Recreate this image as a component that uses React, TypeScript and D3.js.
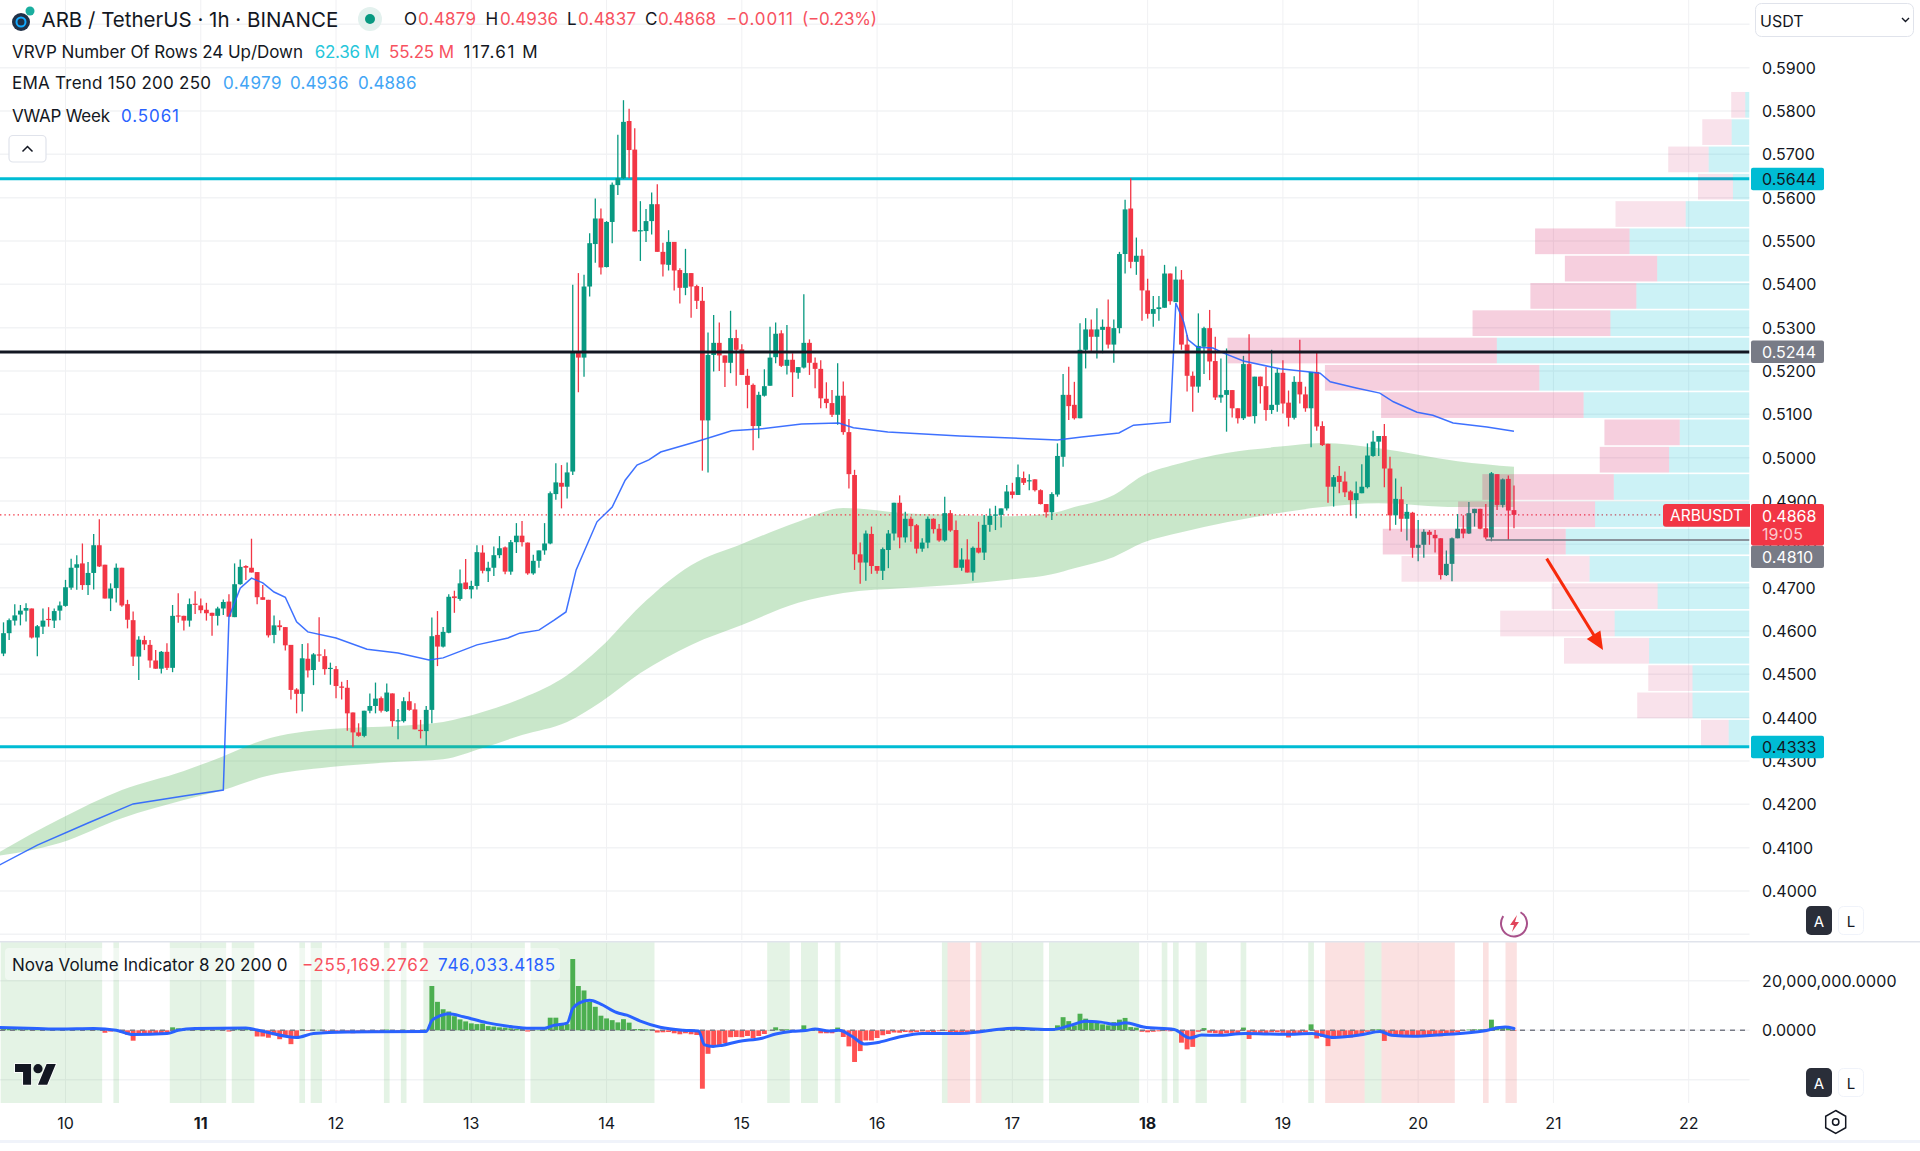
import React from "react";
import * as d3 from "d3";

type Candle = [number, number, number, number];

// OHLC candles, one hour each, grouped by calendar day
const candlesDay09: Candle[] = [
[.4548,.4620,.4542,.4595],[.4595,.4629,.4579,.4625],[.4624,.4662,.4613,.4636],[.4638,.4660,.4613,.4647],[.4647,.4664,.4622,.4653],[.4652,.4652,.4583,.4585],[.4585,.4614,.4542,.4611],[.4610,.4652,.4593,.4624],[.4628,.4655,.4610,.4627],[.4624,.4652,.4607,.4646],[.4647,.4668,.4625,.4659]];
const candlesDay10: Candle[] = [
[.4658,.4718,.4656,.4701],[.4700,.4767,.4695,.4746],[.4746,.4775,.4695,.4754],[.4756,.4802,.4695,.4706],[.4706,.4759,.4683,.4734],[.4734,.4824,.4696,.4798],[.4798,.4858,.4748,.4749],[.4753,.4753,.4675,.4675],[.4675,.4710,.4646,.4698],[.4699,.4756,.4666,.4746],[.4746,.4746,.4656,.4659],[.4662,.4672,.4606,.4626],[.4625,.4645,.4519,.4541],[.4541,.4588,.4487,.4580],[.4579,.4589,.4556,.4569],[.4568,.4579,.4515,.4532],[.4532,.4556,.4513,.4513],[.4513,.4554,.4502,.4552],[.4552,.4572,.4510,.4515],[.4515,.4660,.4505,.4635],[.4636,.4687,.4619,.4635],[.4635,.4635,.4601,.4624],[.4624,.4675,.4610,.4662],[.4663,.4692,.4639,.4662]];
const candlesDay11: Candle[] = [
[.4659,.4675,.4641,.4648],[.4649,.4665,.4624,.4641],[.4642,.4642,.4589,.4635],[.4635,.4656,.4613,.4652],[.4652,.4673,.4637,.4667],[.4668,.4685,.4633,.4633],[.4632,.4756,.4632,.4708],[.4708,.4765,.4707,.4748],[.4750,.4752,.4718,.4746],[.4746,.4813,.4735,.4735],[.4736,.4736,.4662,.4678],[.4678,.4706,.4672,.4672],[.4672,.4672,.4585,.4590],[.4591,.4636,.4572,.4613],[.4613,.4625,.4601,.4609],[.4609,.4609,.4555,.4567],[.4568,.4568,.4442,.4464],[.4465,.4468,.4410,.4455],[.4455,.4570,.4414,.4537],[.4536,.4572,.4493,.4509],[.4510,.4549,.4475,.4546],[.4546,.4632,.4529,.4545],[.4542,.4558,.4499,.4512],[.4514,.4527,.4476,.4515]];
const candlesDay12: Candle[] = [
[.4512,.4519,.4445,.4473],[.4472,.4483,.4442,.4469],[.4469,.4487,.4370,.4410],[.4412,.4412,.4333,.4366],[.4366,.4387,.4356,.4358],[.4358,.4416,.4355,.4416],[.4416,.4456,.4410,.4427],[.4427,.4481,.4410,.4444],[.4445,.4449,.4412,.4416],[.4415,.4479,.4413,.4458],[.4456,.4456,.4379,.4392],[.4392,.4420,.4350,.4394],[.4392,.4447,.4389,.4438],[.4438,.4460,.4416,.4418],[.4419,.4433,.4373,.4373],[.4372,.4395,.4352,.4369],[.4369,.4427,.4335,.4418],[.4418,.4631,.4387,.4588],[.4591,.4646,.4519,.4564],[.4564,.4609,.4562,.4598],[.4596,.4685,.4595,.4679],[.4680,.4693,.4642,.4676],[.4674,.4742,.4670,.4710],[.4712,.4766,.4696,.4697]];
const candlesDay13: Candle[] = [
[.4696,.4716,.4675,.4704],[.4704,.4798,.4696,.4782],[.4781,.4798,.4733,.4739],[.4738,.4760,.4713,.4746],[.4746,.4795,.4727,.4775],[.4775,.4819,.4768,.4791],[.4793,.4795,.4731,.4737],[.4737,.4810,.4730,.4805],[.4805,.4849,.4780,.4820],[.4820,.4854,.4795,.4805],[.4804,.4804,.4730,.4733],[.4733,.4776,.4730,.4762],[.4762,.4786,.4746,.4786],[.4786,.4849,.4776,.4802],[.4802,.4922,.4800,.4918],[.4916,.4987,.4903,.4943],[.4942,.4983,.4883,.4933],[.4933,.4989,.4906,.4966],[.4968,.5399,.4960,.5246],[.5246,.5426,.5151,.5231],[.5231,.5422,.5187,.5395],[.5395,.5518,.5372,.5495],[.5493,.5598,.5450,.5552],[.5552,.5575,.5423,.5439]];
const candlesDay14: Candle[] = [
[.5440,.5546,.5439,.5544],[.5544,.5635,.5495,.5630],[.5629,.5745,.5606,.5645],[.5645,.5825,.5643,.5775],[.5777,.5805,.5645,.5710],[.5711,.5760,.5522,.5522],[.5523,.5592,.5454,.5525],[.5523,.5574,.5498,.5546],[.5546,.5612,.5515,.5585],[.5585,.5631,.5475,.5475],[.5475,.5496,.5418,.5446],[.5445,.5525,.5432,.5498],[.5498,.5498,.5386,.5432],[.5433,.5437,.5356,.5392],[.5392,.5482,.5375,.5426],[.5426,.5426,.5323,.5395],[.5396,.5399,.5343,.5362],[.5362,.5394,.4970,.5086],[.5086,.5289,.4966,.5237],[.5237,.5329,.5199,.5265],[.5265,.5312,.5200,.5236],[.5236,.5236,.5163,.5219],[.5219,.5339,.5195,.5276],[.5276,.5295,.5166,.5249]];
const candlesDay15: Candle[] = [
[.5250,.5262,.5191,.5191],[.5189,.5205,.5114,.5168],[.5168,.5171,.5017,.5073],[.5073,.5152,.5045,.5145],[.5143,.5204,.5141,.5165],[.5166,.5302,.5166,.5231],[.5232,.5312,.5218,.5286],[.5287,.5294,.5209,.5212],[.5212,.5306,.5192,.5226],[.5226,.5241,.5140,.5197],[.5196,.5209,.5182,.5209],[.5208,.5377,.5206,.5265],[.5265,.5273,.5191,.5219],[.5219,.5231,.5160,.5205],[.5205,.5225,.5114,.5137],[.5136,.5174,.5114,.5126],[.5126,.5156,.5094,.5099],[.5099,.5218,.5076,.5143],[.5143,.5176,.5053,.5059],[.5059,.5089,.4929,.4962],[.4960,.4972,.4741,.4777],[.4777,.4804,.4709,.4758],[.4758,.4832,.4716,.4825],[.4824,.4841,.4732,.4750]];
const candlesDay16: Candle[] = [
[.4750,.4750,.4732,.4739],[.4739,.4793,.4718,.4789],[.4787,.4833,.4745,.4825],[.4825,.4896,.4809,.4896],[.4896,.4913,.4791,.4816],[.4816,.4875,.4804,.4859],[.4859,.4864,.4806,.4842],[.4844,.4847,.4779,.4790],[.4790,.4814,.4783,.4804],[.4804,.4864,.4791,.4859],[.4859,.4860,.4825,.4835],[.4836,.4847,.4806,.4809],[.4809,.4910,.4806,.4872],[.4872,.4879,.4829,.4832],[.4833,.4855,.4746,.4746],[.4746,.4791,.4739,.4765],[.4765,.4812,.4735,.4735],[.4735,.4795,.4716,.4792],[.4792,.4852,.4779,.4781],[.4781,.4868,.4764,.4845],[.4845,.4883,.4829,.4866],[.4866,.4889,.4833,.4869],[.4868,.4883,.4839,.4883],[.4883,.4937,.4878,.4922]];
const candlesDay17: Candle[] = [
[.4922,.4942,.4906,.4914],[.4914,.4984,.4914,.4955],[.4953,.4968,.4937,.4942],[.4946,.4962,.4925,.4948],[.4950,.4950,.4922,.4925],[.4925,.4927,.4892,.4893],[.4893,.4893,.4862,.4874],[.4874,.4920,.4856,.4916],[.4915,.5033,.4910,.5004],[.5002,.5193,.4979,.5145],[.5145,.5210,.5087,.5119],[.5122,.5175,.5088,.5091],[.5091,.5310,.5091,.5249],[.5249,.5322,.5206,.5296],[.5296,.5319,.5245,.5279],[.5279,.5345,.5229,.5296],[.5295,.5319,.5241,.5302],[.5302,.5365,.5252,.5261],[.5261,.5319,.5219,.5299],[.5299,.5475,.5287,.5470],[.5470,.5595,.5425,.5573],[.5575,.5645,.5437,.5452],[.5452,.5508,.5422,.5466],[.5466,.5481,.5316,.5386]];
const candlesDay18: Candle[] = [
[.5386,.5413,.5321,.5332],[.5332,.5373,.5302,.5343],[.5343,.5373,.5316,.5347],[.5346,.5445,.5346,.5425],[.5425,.5425,.5353,.5361],[.5359,.5441,.5359,.5411],[.5411,.5433,.5249,.5261],[.5261,.5283,.5153,.5189],[.5189,.5199,.5106,.5164],[.5164,.5333,.5150,.5258],[.5256,.5302,.5193,.5299],[.5299,.5341,.5179,.5222],[.5223,.5279,.5133,.5139],[.5139,.5229,.5127,.5145],[.5145,.5252,.5060,.5156],[.5156,.5156,.5093,.5114],[.5114,.5114,.5079,.5091],[.5091,.5235,.5087,.5216],[.5216,.5285,.5095,.5095],[.5096,.5187,.5079,.5187],[.5187,.5187,.5125,.5165],[.5165,.5210,.5085,.5110],[.5110,.5249,.5101,.5122],[.5122,.5206,.5106,.5196]];
const candlesDay19: Candle[] = [
[.5196,.5225,.5102,.5125],[.5127,.5155,.5072,.5092],[.5092,.5188,.5088,.5175],[.5175,.5272,.5125,.5146],[.5146,.5164,.5106,.5114],[.5114,.5198,.5024,.5198],[.5198,.5245,.5062,.5072],[.5073,.5084,.5027,.5029],[.5032,.5032,.4896,.4933],[.4933,.4960,.4887,.4955],[.4958,.4981,.4918,.4944],[.4945,.4968,.4909,.4920],[.4922,.4925,.4866,.4902],[.4902,.4945,.4860,.4918],[.4918,.4985,.4918,.4933],[.4932,.5033,.4929,.5005],[.5004,.5062,.5002,.5037],[.5037,.5050,.5004,.5050],[.5050,.5078,.4932,.4975],[.4975,.5002,.4832,.4867],[.4867,.4952,.4845,.4905],[.4904,.4933,.4829,.4859],[.4859,.4893,.4809,.4875],[.4873,.4875,.4769,.4792]];
const candlesDay20: Candle[] = [
[.4792,.4856,.4761,.4799],[.4799,.4835,.4769,.4829],[.4829,.4833,.4799,.4822],[.4822,.4833,.4781,.4814],[.4814,.4814,.4719,.4729],[.4729,.4786,.4727,.4755],[.4755,.4816,.4715,.4814],[.4814,.4870,.4814,.4836],[.4836,.4867,.4814,.4825],[.4825,.4898,.4824,.4872],[.4872,.4882,.4841,.4882],[.4882,.4882,.4835,.4836],[.4837,.4893,.4812,.4816],[.4816,.4967,.4807,.4964],[.4962,.4962,.4879,.4891],[.4891,.4952,.4885,.4950],[.4951,.4959,.4810,.4878],[.4879,.4936,.4837,.4868]];

// EMA ribbon (EMA 150 top edge, EMA 250 bottom edge) read at candle indexes
const ribbonIndex = [-1,10,21,32,39,46,58,70,78,85,92,100,106,113,122,131,141,149,160,170,178,186,190,197,202,209,217,226,234,244,258,268];
const ribbonUpper = [.4088,.4166,.4233,.4277,.4311,.4348,.4374,.4381,.4390,.4413,.4445,.4498,.4563,.4658,.4752,.4801,.4852,.4884,.4872,.4868,.4865,.4872,.4886,.4914,.4958,.4988,.5011,.5025,.5034,.5022,.4992,.4979];
const ribbonLower = [.4081,.4111,.4168,.4210,.4233,.4263,.4286,.4298,.4304,.4330,.4360,.4390,.4436,.4503,.4568,.4614,.4665,.4688,.4699,.4708,.4718,.4731,.4745,.4771,.4803,.4828,.4851,.4872,.4886,.4895,.4886,.4886];

// Weekly VWAP
const vwapIndex = [-1,6,15,23,32,39,40,42,44,46,48,50,52,54,59,64.5,70,75.5,78,84,89.5,91.6,95,97.7,99.8,101.6,105.3,108,110.3,112.4,114.5,116.6,123.2,129.2,134,141.6,148.2,150.8,156.9,169.7,187,191.3,197.9,200.5,207,208,209.4,210.2,211.8,214.6,216.4,220,226.5,231.8,233.6,235.4,240,244.2,246.6,250.8,253.6,257.2,263.2,268];
const vwapValues = [.4058,.4106,.4157,.4201,.4219,.4233,.4632,.4699,.4722,.4711,.4690,.4678,.4621,.4598,.4584,.4558,.4549,.4533,.4538,.4568,.4584,.4595,.4602,.4625,.4644,.4741,.4852,.4886,.4948,.4983,.4995,.5013,.5038,.5062,.5066,.5078,.5080,.5069,.5059,.5050,.5041,.5048,.5057,.5075,.5082,.5357,.5313,.5272,.5255,.5253,.5242,.5223,.5205,.5198,.5195,.5175,.5161,.5149,.5129,.5105,.5098,.5080,.5071,.5061];

// Volume profile, top row first, in millions
const vrvpUp = [.10,.42,.96,.39,1.50,2.82,2.17,2.66,3.27,5.94,4.94,3.90,1.64,1.89,3.19,3.63,4.32,3.76,2.16,3.17,2.36,1.34,1.34,.49];
const vrvpDown = [.33,.69,.95,.82,1.65,2.22,2.17,2.49,3.24,6.33,5.04,4.76,1.77,1.63,3.09,3.22,4.30,4.42,2.49,2.69,2.00,1.04,1.30,.65];
const vrvpValueArea = [0,0,0,0,0,1,1,1,1,1,1,1,1,1,1,1,1,0,0,0,0,0,0,0];
const vrvpTopPrice = .5844;
const vrvpRowStep = .0063;

// Nova Volume Indicator, in millions
const novaHistogram = [
.8,.8,.7,.6,.5,.5,.4,.4,.3,.3,.4,.4,.4,.5,.6,.5,.6,.4,
-1,-.5,.2,-1,-1.8,-4.2,-1.5,-1.8,-1.5,-1.6,-1.2,-.8,
1.2,.8,.5,.4,.6,.5,.3,.3,.4,.4,-.5,.6,1.1,.9,.8,
-2.5,-2.5,-3,-2,-3.6,-2.4,-5.6,-3.2,
.3,-.3,.2,.2,-.5,-.4,-.6,-.8,-1.1,-1.2,-1.1,-.7,-.5,-.5,-.4,.3,-.4,-.4,.2,-.4,-.3,-.2,.3,
17.9,11.5,8.5,7.6,5.7,4.4,3.6,2.8,2.5,2.7,1.7,1.5,1.2,1.1,.8,.5,.7,
-.5,.2,.2,.4,5.1,5.1,2.8,2.5,
28.8,17.9,16.1,11.5,9.5,5.9,4.8,4.1,3.2,4.5,3.1,.5,.5,.4,.4,
-.9,-.8,-.7,-1.2,-1.6,-1.2,-1.6,-1.9,-23.6,-9.5,-6.5,-6.3,-5.2,-2.8,-2.7,-2.8,-2.3,-3.2,-2.3,-1.5,
.1,1.2,.4,.4,-.1,.1,2,.5,.5,
-1.2,-1.2,-1.2,1.1,
-2.7,-6.5,-12.8,-8.4,-4.1,-4.1,-3.1,-2,-1.5,-.9,-1,-.7,-.9,-.7,
-.5,-.6,-.8,-.4,-.3,-1.8,-.8,
-1,-1.3,-.8,-.6,-.4,-.4,.3,.4,.6,.6,.7,.6,.7,.6,.5,.5,.4,
2,5.3,3.7,2,6.7,4.7,3.7,3.3,2.4,2,3.3,4.3,5,1.3,1.1,
-.6,-.8,-.6,-.4,-.3,-.4,.4,
-5,-7.7,-6.7,-.6,.9,-1,-1.2,-1.6,-1.2,-1.5,-1.3,
1.1,-3.5,-1,-1.2,-1.2,-.8,-.8,-1,-2.9,-1.5,-1.2,-.8,
2.4,
-3.3,-2.7,-6.4,-3.3,-2.9,-2.7,-2.9,-2.4,-1.6,-.6,
.4,.4,
-4.3,-2,-2.4,-2.4,-2.7,-2.4,-2,-2.1,-2,-1.9,-2.4,-1.6,-1.3,-.8,-.3,
.3,.4,.4,.5,4.3,1.6,1.3,1.1,
-.26];
const novaLineIndex = [-1,6,10,16,20,23,29,31,34,43,46,52,55,61,75,76,77.5,79,81.6,85.7,90,93.4,96,97.6,100,101,102.3,104,105.8,108.8,110.6,113,116.5,120.6,123.3,124.4,125.9,127.4,130.4,134.6,137,140,142.3,144,146.5,148.2,150.6,152.7,155.4,158.9,163,169.7,173,176.2,179.5,186,189.3,192,194.7,197.4,199,202.3,207.7,210.5,212.6,215.4,220.2,227.3,232.2,236,241.4,244.2,246.3,250.1,255.6,262.6,265.4,266.4,268];
const novaLineValues = [1.2,.7,.5,.7,0,-1.7,-1.3,0,.7,.9,-.4,-2.9,-1.3,-.7,-.5,3.9,5.9,6.7,5.5,3.1,1.5,.8,.8,2,2.9,8.8,11.2,12.1,10.8,7.2,6.1,3.7,1.2,0,-.3,-5.9,-6.5,-6.1,-4.5,-3.2,-1.5,-.4,-.1,.5,-.3,0,-2.5,-5.5,-4.8,-2.7,-1.3,-1.3,-.7,.3,.8,.3,2,3.7,3.3,2.4,3.1,1.3,.3,-3.1,-1.9,-2,-1.3,-1.6,-1.3,-2.9,-1.6,-.5,-2,-2.4,-1.7,-.3,1.1,1.3,.75];
const novaGreenSpans: [number, number][] = [[0,17],[20,20],[30,39],[41,44],[53,53],[55,56],[68,68],[71,71],[75,92],[94,115],[136,139],[142,144],[148,148],[167,167],[174,184],[186,201],[206,206],[208,208],[212,213],[220,220],[232,232],[242,244]];
const novaRedSpans: [number, number][] = [[168,171],[173,173],[235,241],[245,257],[263,263],[267,268]];

// Axis labels and levels
const dayTicks = [10,11,12,13,14,15,16,17,18,19,20,21,22];
const boldDays = [11,18];
const priceTicks = [.59,.58,.57,.56,.55,.54,.53,.52,.51,.50,.49,.48,.47,.46,.45,.44,.43,.42,.41,.40];
const extraPriceGrid = [.60,.39];
const novaGrid = [20,0,-20];
const levelSupport = .4333;
const levelResistance = .5644;
const levelPivot = .5244;
const levelLastLow = .4810;
const lastPrice = .4868;
const arrowFrom = { index: 273.8, price: .4767 };
const arrowTo = { index: 283.8, price: .4556 };

const candles = [...candlesDay09,...candlesDay10,...candlesDay11,...candlesDay12,...candlesDay13,...candlesDay14,...candlesDay15,...candlesDay16,...candlesDay17,...candlesDay18,...candlesDay19,...candlesDay20];

const FONT = "Inter, 'Noto Sans', sans-serif";
const W = 1920, H = 1151;
const PANE_R = 1749.5;
const UP = "#089981", DOWN = "#F23645", INK = "#131722";
const GRID = "#F2F3F5";

const x = d3.scaleLinear().domain([11, 299]).range([65.5, 1688.7]);
const y = d3.scaleLinear().domain([.59, .40]).range([67.7, 891]);
const yNova = d3.scaleLinear().domain([20, 0, -20]).range([980.8, 1030.3, 1079.8]);
const xVol = d3.scaleLinear().domain([0, 12.27]).range([PANE_R, PANE_R - 522]);
const CANDLE_STEP = x(12) - x(11);
const dayIndex = (d: number) => 11 + (d - 10) * 24;
const fmt = d3.format(".4f");

function T(p: any) {
  const { children, ...rest } = p;
  const fit = p.textLength ? { lengthAdjust: "spacing" } : {};
  return <text dominantBaseline="central" fontFamily={FONT} fill={INK} {...fit} {...rest}>{children}</text>;
}

function Tag({ top, h, fill, label, color }: any) {
  return (
    <g>
      <rect x={1751} y={top} width={73} height={h} rx={2} fill={fill} />
      <T x={1762} y={top + 11.5} fontSize={16} fill={color}>{label}</T>
    </g>
  );
}

function AB({ top }: { top: number }) {
  return (
    <g>
      <rect x={1806} y={top} width={26} height={29} rx={5} fill="#2A2E39" />
      <T x={1819} y={top + 15} fontSize={15} textAnchor="middle" fill="#fff">A</T>
      <rect x={1838.5} y={top + .5} width={25} height={28} rx={5} fill="#fff" stroke="#F0F3FA" />
      <T x={1851} y={top + 15} fontSize={15} textAnchor="middle">L</T>
    </g>
  );
}

export default function App() {
  const ribbon = d3.area<number>()
    .x((_, i) => x(ribbonIndex[i]))
    .y0((_, i) => y(ribbonLower[i]))
    .y1((_, i) => y(ribbonUpper[i]))
    .curve(d3.curveMonotoneX)(ribbonUpper) as string;
  const vwap = d3.line<number>()
    .x((_, i) => x(vwapIndex[i]))
    .y((v) => y(v))(vwapValues) as string;
  const novaLine = d3.line<number>()
    .x((_, i) => x(novaLineIndex[i]))
    .y((v) => yNova(v))
    .curve(d3.curveMonotoneX)(novaLineValues) as string;
  const ax = x(arrowFrom.index), ay = y(arrowFrom.price), bx = x(arrowTo.index), by = y(arrowTo.price);
  const ang = Math.atan2(by - ay, bx - ax);
  const head = [[0, 0], [-18, 8], [-18, -8]].map(([u, v]) => [bx + u * Math.cos(ang) - v * Math.sin(ang), by + u * Math.sin(ang) + v * Math.cos(ang)].join(",")).join(" ");
  const yLast = y(lastPrice);
  const mid = (lo: number, hi: number) => [x(lo) - CANDLE_STEP / 2, x(hi) + CANDLE_STEP / 2];

  return (
    <svg width={W} height={H} viewBox={`0 0 ${W} ${H}`} style={{ position: "absolute", left: 0, top: 0, display: "block", background: "#fff" }}>
      <defs>
        <clipPath id="mainClip"><rect x={0} y={0} width={PANE_R} height={941} /></clipPath>
      </defs>

      {/* grids */}
      {[...priceTicks, ...extraPriceGrid].map((p) => (
        <line key={p} x1={0} x2={PANE_R} y1={y(p)} y2={y(p)} stroke={GRID} strokeWidth={1.5} />
      ))}
      {novaGrid.map((v) => (
        <line key={v} x1={0} x2={PANE_R} y1={yNova(v)} y2={yNova(v)} stroke={GRID} strokeWidth={1.5} />
      ))}
      {dayTicks.map((d) => (
        <g key={d}>
          <line x1={x(dayIndex(d))} x2={x(dayIndex(d))} y1={0} y2={940} stroke="#F0F1F3" />
          <line x1={x(dayIndex(d))} x2={x(dayIndex(d))} y1={943} y2={1103} stroke="#F0F1F3" />
        </g>
      ))}

      {/* main pane */}
      <g clipPath="url(#mainClip)">
        <line x1={0} x2={PANE_R} y1={y(levelResistance)} y2={y(levelResistance)} stroke="#00BCD4" strokeWidth={3} />
        <line x1={0} x2={PANE_R} y1={y(levelSupport)} y2={y(levelSupport)} stroke="#00BCD4" strokeWidth={3} />
        <path d={ribbon} fill="#4CAF50" fillOpacity={0.3} />
        <line x1={0} x2={1663} y1={yLast} y2={yLast} stroke={DOWN} strokeWidth={1.2} strokeDasharray="1.4 3" />
        {candles.map(([o, h, l, c], i) => {
          const col = c >= o ? UP : DOWN;
          const top = y(Math.max(o, c)), bot = y(Math.min(o, c));
          return (
            <g key={i}>
              <line x1={x(i)} x2={x(i)} y1={y(h)} y2={y(l)} stroke={col} strokeWidth={1.3} />
              <rect x={x(i) - 2.4} width={4.8} y={top} height={Math.max(bot - top, 1.2)} fill={col} />
            </g>
          );
        })}
        {vrvpUp.map((u, i) => {
          const d = vrvpDown[i];
          const top = y(vrvpTopPrice - i * vrvpRowStep);
          const h = y(vrvpTopPrice - (i + 1) * vrvpRowStep) - top - 1.6;
          return (
            <g key={i}>
              <rect x={xVol(u)} y={top} width={xVol(0) - xVol(u)} height={h} fill="#00BCD4" fillOpacity={0.2} />
              <rect x={xVol(u + d)} y={top} width={xVol(u) - xVol(u + d)} height={h} fill="#D41E63" fillOpacity={vrvpValueArea[i] ? 0.21 : 0.13} />
            </g>
          );
        })}
        <path d={vwap} fill="none" stroke="#2962FF" strokeWidth={1.5} strokeOpacity={0.9} />
        <line x1={0} x2={PANE_R} y1={y(levelPivot)} y2={y(levelPivot)} stroke={INK} strokeWidth={3} />
        <line x1={x(263)} x2={PANE_R} y1={y(levelLastLow)} y2={y(levelLastLow)} stroke="#787B86" strokeWidth={2} strokeOpacity={0.8} />
        <line x1={ax} x2={bx - 10 * Math.cos(ang)} y1={ay} y2={by - 10 * Math.sin(ang)} stroke="#F72A0C" strokeWidth={3} />
        <polygon points={head} fill="#F72A0C" />
      </g>

      {/* pane frame */}
      <line x1={0} x2={W} y1={941.7} y2={941.7} stroke="#E0E3EB" strokeWidth={1.6} />
      <rect x={0} y={1140} width={W} height={3} fill="#F0F3FA" />

      {/* lower pane */}
      {novaGreenSpans.map(([a, b]) => {
        const [l, r] = mid(a, b);
        return <rect key={`g${a}`} x={l} y={942.5} width={r - l} height={160.5} fill="#4CAF50" fillOpacity={0.15} />;
      })}
      {novaRedSpans.map(([a, b]) => {
        const [l, r] = mid(a, b);
        return <rect key={`r${a}`} x={l} y={942.5} width={r - l} height={160.5} fill="#E53935" fillOpacity={0.15} />;
      })}
      {novaHistogram.map((v, i) => {
        const a = yNova(Math.max(v, 0)), b = yNova(Math.min(v, 0));
        return <rect key={i} x={x(i) - 2.45} width={4.9} y={a} height={b - a} fill={v >= 0 ? "#4CAF50" : "#FF5252"} />;
      })}
      <line x1={0} x2={PANE_R} y1={yNova(0)} y2={yNova(0)} stroke="#787B86" strokeWidth={1.4} strokeDasharray="5 5" />
      <path d={novaLine} fill="none" stroke="#2962FF" strokeWidth={3} strokeLinejoin="round" strokeLinecap="round" />

      {/* TradingView mark */}
      <g transform="translate(15 1056) scale(1.15)">
        <path d="M14 25H7V14H0V7h14v18zM28 25h-8l7.5-18h8L28 25z" fill={INK} stroke="#fff" strokeWidth={1.5} paintOrder="stroke" />
        <circle cx={20} cy={11} r={4} fill={INK} />
      </g>

      {/* price axis */}
      {priceTicks.map((p) => (
        <T key={p} x={1762} y={y(p)} fontSize={16}>{fmt(p)}</T>
      ))}
      <T x={1762} y={980.8} fontSize={16} textLength={134.5}>20,000,000.0000</T>
      <T x={1762} y={yNova(0)} fontSize={16}>0.0000</T>

      <Tag top={167.7} h={22.6} fill="#00BCD4" label={fmt(levelResistance)} color={INK} />
      <Tag top={340.5} h={22.4} fill="#787B86" label={fmt(levelPivot)} color="#fff" />
      <Tag top={735.7} h={22.6} fill="#00BCD4" label={fmt(levelSupport)} color={INK} />
      <Tag top={545.5} h={22.4} fill="#787B86" label={fmt(levelLastLow)} color="#fff" />
      <path d="M1666 504H1750V526.7H1666a3 3 0 0 1-3-3V507a3 3 0 0 1 3-3Z" fill={DOWN} />
      <T x={1670} y={515.5} fontSize={15.5} fill="#fff">ARBUSDT</T>
      <rect x={1751} y={504} width={73} height={41.5} rx={2} fill={DOWN} />
      <T x={1762} y={515.7} fontSize={16} fill="#fff">{fmt(lastPrice)}</T>
      <T x={1762} y={534} fontSize={16} fill="#FBC9CD">19:05</T>

      {/* time axis */}
      {dayTicks.map((d) => (
        <T key={d} x={x(dayIndex(d))} y={1122.7} fontSize={16} textAnchor="middle" fontWeight={boldDays.includes(d) ? 700 : 400}>{d}</T>
      ))}
      <path d="M1835.7 1110.5l10 5.75v11.5l-10 5.75-10-5.75v-11.5z" fill="none" stroke={INK} strokeWidth={1.5} />
      <circle cx={1835.7} cy={1122} r={3.2} fill="none" stroke={INK} strokeWidth={1.5} />

      <AB top={906} />
      <AB top={1068} />

      {/* purple alert glyph */}
      <circle cx={1514} cy={923.5} r={13} fill="none" stroke="#A8518A" strokeWidth={2} strokeDasharray="62 20" transform="rotate(-60 1514 923.5)" />
      <path d="M1517 915l-7 10h4l-2 7 7-10h-4z" fill="#E0455B" />

      {/* legend */}
      <circle cx={21} cy={22} r={9} fill="#213147" />
      <circle cx={21} cy={22} r={4.5} fill="none" stroke="#12AAFF" strokeWidth={2} />
      <circle cx={30} cy={11} r={4.5} fill="#1AAE9F" />
      <T x={41.5} y={19.3} fontSize={20.5}>ARB / TetherUS · 1h · BINANCE</T>
      <circle cx={370} cy={19} r={12} fill="#E3F1EE" />
      <circle cx={370} cy={19} r={5} fill={UP} />
      {[["O", 404, .4879, 418], ["H", 485.6, .4936, 500], ["L", 567, .4837, 578], ["C", 645, .4868, 658]].map(([k, a, v, b]: any) => (
        <g key={k}>
          <T x={a} y={19.3} fontSize={17}>{k}</T>
          <T x={b} y={19.3} fontSize={17} fill="#F7525F" textLength={58}>{fmt(v)}</T>
        </g>
      ))}
      <T x={726} y={19.3} fontSize={17} fill="#F7525F" textLength={67}>−0.0011</T>
      <T x={802} y={19.3} fontSize={17} fill="#F7525F" textLength={75}>(−0.23%)</T>

      <T x={12} y={51.7} fontSize={17} textLength={291}>VRVP Number Of Rows 24 Up/Down</T>
      <T x={314.7} y={51.7} fontSize={17} fill="#26C6DA" textLength={65}>62.36 M</T>
      <T x={389} y={51.7} fontSize={17} fill="#F7525F" textLength={65}>55.25 M</T>
      <T x={463.5} y={51.7} fontSize={17} textLength={74}>117.61 M</T>

      <T x={12} y={83.3} fontSize={17} textLength={199}>EMA Trend 150 200 250</T>
      <T x={223} y={83.3} fontSize={17} fill="#42A5F5" textLength={58.5}>0.4979</T>
      <T x={290} y={83.3} fontSize={17} fill="#42A5F5" textLength={58.5}>0.4936</T>
      <T x={358} y={83.3} fontSize={17} fill="#42A5F5" textLength={58.5}>0.4886</T>

      <T x={12} y={115.7} fontSize={17} textLength={98}>VWAP Week</T>
      <T x={121} y={115.7} fontSize={17} fill="#2962FF" textLength={58}>0.5061</T>

      <rect x={9} y={135.5} width={37} height={26.5} rx={4} fill="#fff" stroke="#E0E3EB" strokeWidth={1.2} />
      <path d="M22.5 151.5l5-5 5 5" fill="none" stroke={INK} strokeWidth={1.5} />

      <rect x={5} y={948} width={555} height={32} rx={4} fill="#fff" fillOpacity={0.45} />
      <T x={12} y={965} fontSize={17} textLength={275.5}>Nova Volume Indicator 8 20 200 0</T>
      <T x={302} y={965} fontSize={17} fill="#F7525F" textLength={127}>−255,169.2762</T>
      <T x={438} y={965} fontSize={17} fill="#2962FF" textLength={117}>746,033.4185</T>

      {/* currency selector */}
      <rect x={1755.5} y={3.5} width={158} height={33} rx={6} fill="#fff" stroke="#E0E3EB" />
      <T x={1760} y={20.7} fontSize={16}>USDT</T>
      <path d="M1902 18l3.5 3.5 3.5-3.5" fill="none" stroke={INK} strokeWidth={1.4} />
    </svg>
  );
}
